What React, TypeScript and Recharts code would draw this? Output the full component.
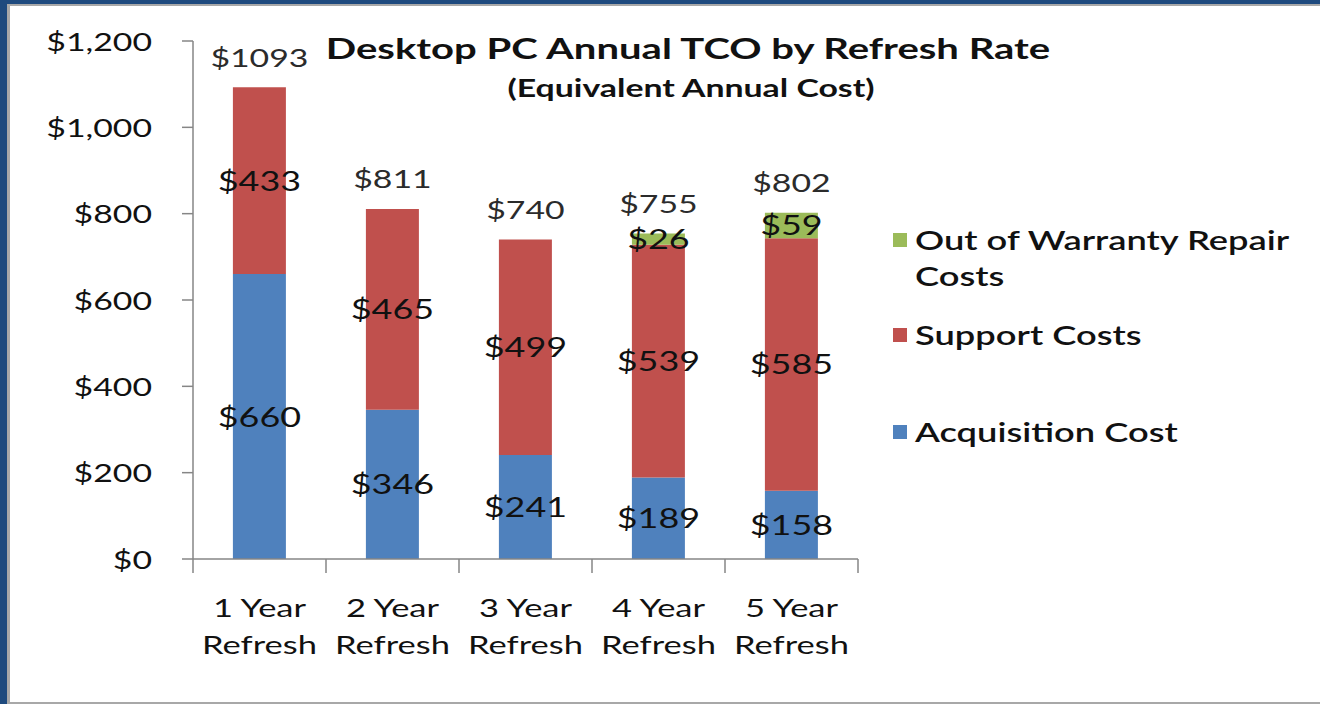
import React from "react";
import { BarChart, Bar, XAxis, YAxis, LabelList } from "recharts";

const categories = ["1 Year Refresh", "2 Year Refresh", "3 Year Refresh", "4 Year Refresh", "5 Year Refresh"];
const acquisition = [660, 346, 241, 189, 158];
const support = [433, 465, 499, 539, 585];
const repair = [0, 0, 0, 26, 59];
const totals = [1093, 811, 740, 755, 802];
const yTicks = [0, 200, 400, 600, 800, 1000, 1200];

const colors: Record<string, string> = { acquisition: "#4f81bd", support: "#c0504d", repair: "#9bbb59" };

const data = categories.map((c, i) => ({
  name: c,
  acquisition: acquisition[i],
  support: support[i],
  repair: repair[i],
  total: totals[i],
}));

const FONT = "Lato, 'Open Sans', sans-serif";
const SX = 1.38;
const AXIS = "#868686";
const fmtMoney = (v: number) => "$" + v.toLocaleString("en-US");

const SText = (p: any) => {
  const { x, y, anchor, size, weight, fill, children } = p;
  return (
    <text
      transform={`translate(${x},${y}) scale(${SX},1)`}
      textAnchor={anchor || "middle"}
      dominantBaseline="central"
      fontFamily={FONT}
      fontSize={size}
      fontWeight={weight || 400}
      fill={fill || "#111"}
    >
      {children}
    </text>
  );
};

const YTick = (props: any) => {
  const { x, y, payload } = props;
  return (
    <SText x={x} y={y} anchor="end" size={24.5}>
      {fmtMoney(payload.value)}
    </SText>
  );
};

const CatTick = (props: any) => {
  const { x, y, payload, index, visibleTicksCount } = props;
  const parts = String(payload.value).split(" ");
  const half = payload.offset || 0;
  const isLast = index === (visibleTicksCount ?? categories.length) - 1;
  return (
    <g>
      <line x1={x - half} x2={x - half} y1={y} y2={y + 14} stroke={AXIS} strokeWidth={1.5} />
      {isLast && <line x1={x + half} x2={x + half} y1={y} y2={y + 14} stroke={AXIS} strokeWidth={1.5} />}
      <SText x={x} y={y + 48} size={25}>{parts.slice(0, 2).join(" ")}</SText>
      <SText x={x} y={y + 85} size={25}>{parts.slice(2).join(" ")}</SText>
    </g>
  );
};

const SegLabel = (props: any) => {
  const vb = props.viewBox || props;
  const v = props.value;
  if (!v) return null;
  return (
    <SText x={vb.x + vb.width / 2} y={vb.y + vb.height / 2} size={26}>
      {"$" + v}
    </SText>
  );
};

const TotalLabel = (props: any) => {
  const vb = props.viewBox || props;
  return (
    <SText x={vb.x + vb.width / 2} y={vb.y - 30} size={24.5} fill="#2b2b2b">
      {"$" + props.value}
    </SText>
  );
};

export default function App() {
  const legendItems = [
    { key: "repair", lines: ["Out of Warranty Repair", "Costs"], top: 222 },
    { key: "support", lines: ["Support Costs"], top: 317 },
    { key: "acquisition", lines: ["Acquisition Cost"], top: 414 },
  ];
  return (
    <div style={{ position: "absolute", left: 0, top: 0, width: 1320, height: 704, background: "#1e4a7e", overflow: "hidden" }}>
      <div
        style={{
          position: "absolute",
          left: 7,
          top: 4,
          width: 1313,
          height: 700,
          background: "#fff",
          borderLeft: "3px solid #a8a8a8",
          borderTop: "2px solid #a8a8a8",
          borderBottom: "2px solid #a8a8a8",
          boxSizing: "border-box",
        }}
      />
      <div style={{ position: "absolute", left: 0, top: 0 }}>
        <BarChart
          width={1320}
          height={704}
          data={data}
          margin={{ top: 41, right: 462, bottom: 65, left: 83 }}
          barCategoryGap="30%"
        >
          <XAxis
            dataKey="name"
            tickLine={false}
            tickSize={0}
            tickMargin={0}
            axisLine={{ stroke: AXIS, strokeWidth: 1.5 }}
            tick={<CatTick />}
            interval={0}
            height={80}
          />
          <XAxis xAxisId="ovl" dataKey="name" hide />
          <YAxis
            domain={[0, 1200]}
            ticks={yTicks}
            width={110}
            tickSize={11}
            tickMargin={30}
            axisLine={{ stroke: AXIS, strokeWidth: 1.5 }}
            tickLine={{ stroke: AXIS, strokeWidth: 1.5 }}
            tick={<YTick />}
          />
          <Bar dataKey="acquisition" stackId="a" fill={colors.acquisition} isAnimationActive={false}>
            <LabelList dataKey="acquisition" content={<SegLabel />} />
          </Bar>
          <Bar dataKey="support" stackId="a" fill={colors.support} isAnimationActive={false}>
            <LabelList dataKey="support" content={<SegLabel />} />
          </Bar>
          <Bar dataKey="repair" stackId="a" fill={colors.repair} isAnimationActive={false}>
            <LabelList dataKey="repair" content={<SegLabel />} />
          </Bar>
          <Bar dataKey="total" xAxisId="ovl" fill="transparent" isAnimationActive={false}>
            <LabelList dataKey="total" content={<TotalLabel />} />
          </Bar>
        </BarChart>
      </div>
      <div
        style={{
          position: "absolute",
          left: 688,
          top: 30,
          transform: `translateX(-50%) scaleX(${SX})`,
          fontFamily: FONT,
          fontWeight: 700,
          fontSize: 29,
          lineHeight: "36px",
          color: "#111",
          whiteSpace: "nowrap",
        }}
      >
        Desktop PC Annual TCO by Refresh Rate
      </div>
      <div
        style={{
          position: "absolute",
          left: 691,
          top: 73,
          transform: `translateX(-50%) scaleX(${SX})`,
          fontFamily: FONT,
          fontWeight: 700,
          fontSize: 24.5,
          lineHeight: "30px",
          color: "#111",
          whiteSpace: "nowrap",
        }}
      >
        (Equivalent Annual Cost)
      </div>
      {legendItems.map((it) => (
        <div key={it.key} style={{ position: "absolute", left: 893, top: it.top }}>
          <div style={{ position: "absolute", left: 0, top: 11, width: 14, height: 14, background: colors[it.key] }} />
          <div
            style={{
              position: "absolute",
              left: 22,
              top: 0,
              transform: `scaleX(${SX})`,
              transformOrigin: "0 0",
              fontFamily: FONT,
              fontSize: 26.3,
              fontWeight: 600,
              lineHeight: "36px",
              color: "#111",
              whiteSpace: "nowrap",
            }}
          >
            {it.lines.map((l, i) => (
              <div key={i}>{l}</div>
            ))}
          </div>
        </div>
      ))}
    </div>
  );
}
